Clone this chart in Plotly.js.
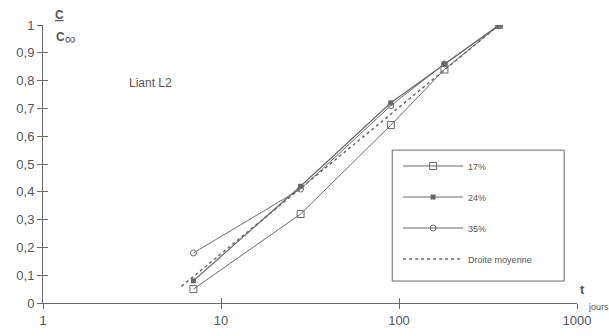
<!DOCTYPE html>
<html>
<head>
<meta charset="utf-8">
<script src="https://cdn.plot.ly/plotly-3.0.1.min.js"></script>
<style>
  html, body { margin: 0; padding: 0; background: #fff; }
  #chart { width: 609px; height: 336px; }
</style>
</head>
<body>
<div id="chart"></div>
<script>
// Curing age (days) and relative strength C / C∞ for binder L2
const days = [7, 28, 90, 180, 365];
const ratio17 = [0.05, 0.32, 0.64, 0.84, 1.0];
const ratio24 = [0.08, 0.42, 0.72, 0.86, 1.0];
const ratio35 = [0.18, 0.41, 0.71, 0.86, 1.0];
const meanDays = [6, 365];
const meanRatio = [0.06, 1.0];
const seriesNames = ['17%', '24%', '35%', 'Droite moyenne'];
const yTicks = [0, 0.1, 0.2, 0.3, 0.4, 0.5, 0.6, 0.7, 0.8, 0.9, 1];
const xTicks = [1, 10, 100, 1000];

const grey = '#6a6a6a';
const textGrey = '#555';
const font = 'Liberation Sans, Arial, sans-serif';

const traces = [
  { x: days, y: ratio17, name: seriesNames[0], legendgroup: 'a',
    mode: 'lines+markers', line: { color: grey, width: 1 },
    marker: { symbol: 'square-open', size: 7, color: grey, line: { width: 1 } } },
  { x: days, y: ratio24, name: seriesNames[1], legendgroup: 'b',
    mode: 'lines+markers', line: { color: grey, width: 1.2 },
    marker: { symbol: 'square', size: 5, color: '#666' } },
  { x: days, y: ratio35, name: seriesNames[2], legendgroup: 'c',
    mode: 'lines+markers', line: { color: grey, width: 1 },
    marker: { symbol: 'circle-open', size: 6, color: grey, line: { width: 1 } } },
  { x: meanDays, y: meanRatio, name: seriesNames[3], legendgroup: 'd',
    mode: 'lines', line: { color: grey, width: 1.5, dash: 'dot' } },
  // empty trace that brings up the overlaid axes carrying the inner tick halves
  { x: [], y: [], xaxis: 'x2', yaxis: 'y2', mode: 'lines',
    showlegend: false, hoverinfo: 'skip' }
];

const axisCommon = {
  showgrid: false, zeroline: false, showline: true,
  linecolor: grey, linewidth: 1, ticks: 'outside', ticklen: 5,
  tickcolor: grey, tickwidth: 1,
  tickfont: { family: font, size: 13, color: textGrey }
};

const layout = {
  width: 609, height: 336,
  margin: { l: 43, r: 32, t: 25, b: 33 },
  paper_bgcolor: '#fff', plot_bgcolor: 'rgba(0,0,0,0)',
  separators: ', ',
  font: { family: font, color: textGrey },
  xaxis: Object.assign({}, axisCommon, {
    type: 'log', range: [0, 3], tickvals: xTicks, ticktext: xTicks.map(String)
  }),
  yaxis: Object.assign({}, axisCommon, {
    range: [0, 1], tickvals: yTicks
  }),
  xaxis2: { type: 'log', range: [0, 3], overlaying: 'x', anchor: 'y2',
    showgrid: false, zeroline: false, showline: false, showticklabels: false,
    ticks: 'inside', ticklen: 5, tickcolor: grey, tickwidth: 1, tickvals: xTicks },
  yaxis2: { range: [0, 1], overlaying: 'y', anchor: 'x2',
    showgrid: false, zeroline: false, showline: false, showticklabels: false,
    ticks: 'inside', ticklen: 5, tickcolor: grey, tickwidth: 1, tickvals: yTicks },
  showlegend: true,
  legend: {
    x: 0.665, y: 0.545, xanchor: 'left', yanchor: 'top',
    bgcolor: 'rgba(0,0,0,0)', borderwidth: 0,
    traceorder: 'grouped', tracegroupgap: 12, itemwidth: 60,
    font: { family: font, size: 9, color: textGrey }
  },
  shapes: [
    { type: 'rect', xref: 'paper', yref: 'paper',
      x0: 0.654, x1: 0.976, y0: 0.079, y1: 0.55,
      line: { color: grey, width: 1 }, fillcolor: 'rgba(0,0,0,0)' }
  ],
  annotations: [
    { text: 'Liant L2', xref: 'paper', yref: 'paper', x: 0.202, y: 0.791,
      xanchor: 'center', yanchor: 'middle',
      showarrow: false, font: { family: font, size: 12, color: textGrey } },
    { text: '<b><u>C</u></b>', xref: 'paper', yref: 'paper', x: 0.03, y: 1.035,
      xanchor: 'center', yanchor: 'middle',
      showarrow: false, font: { family: font, size: 12, color: textGrey } },
    { text: '<b>C</b><sub><span style="font-size:15px">∞</span></sub>',
      xref: 'paper', yref: 'paper', x: 0.02, y: 0.953,
      xanchor: 'left', yanchor: 'middle',
      showarrow: false, font: { family: font, size: 12, color: textGrey } },
    { text: '<b>t</b>', xref: 'paper', yref: 'paper', x: 1.011, y: 0.047,
      xanchor: 'center', yanchor: 'middle',
      showarrow: false, font: { family: font, size: 13, color: textGrey } },
    { text: 'jours', xref: 'paper', yref: 'paper', x: 1.017, y: -0.014,
      xanchor: 'left', yanchor: 'middle',
      showarrow: false, font: { family: font, size: 9, color: textGrey } }
  ]
};

Plotly.newPlot('chart', traces, layout, { displayModeBar: false, staticPlot: true });
</script>
</body>
</html>
